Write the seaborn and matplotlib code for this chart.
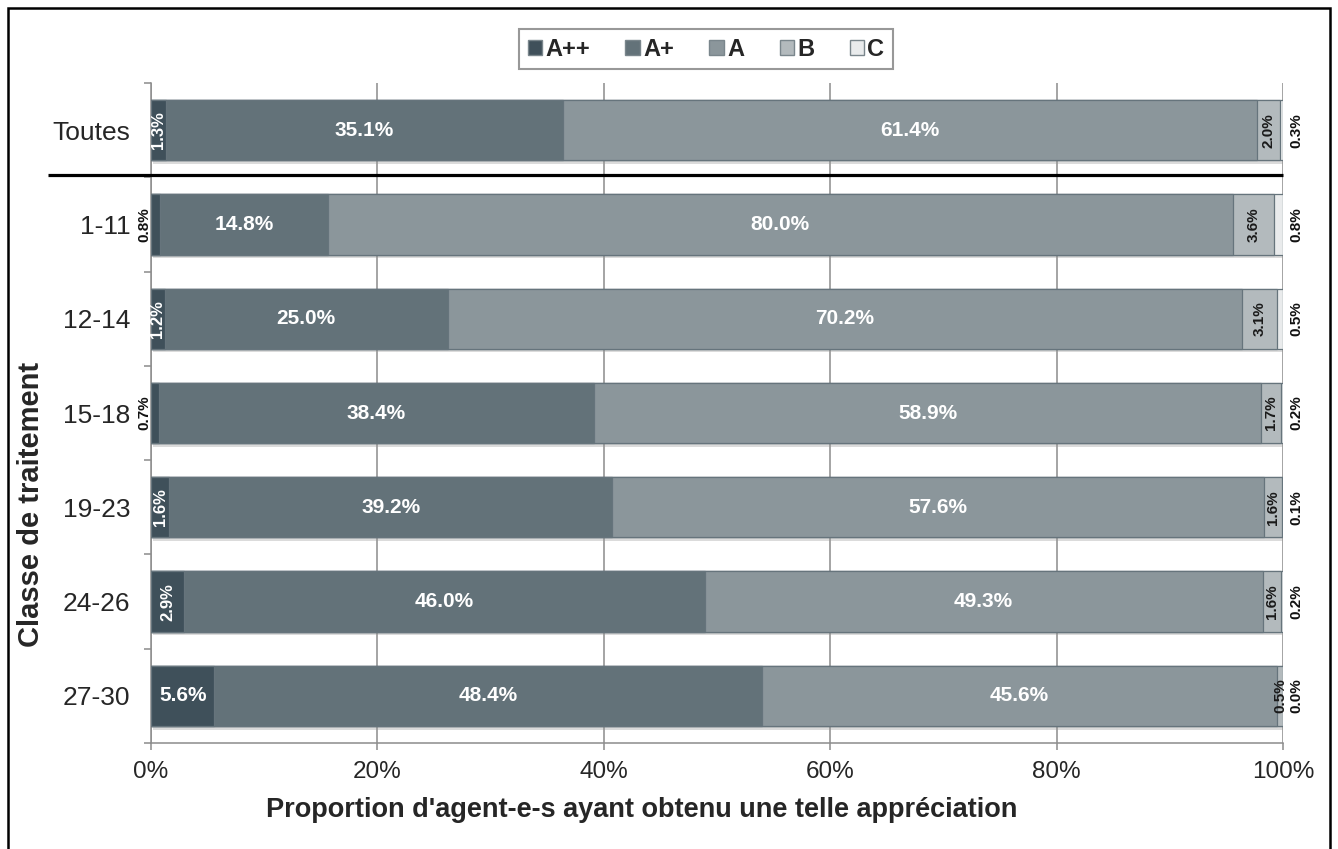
import matplotlib
matplotlib.use("Agg")
import matplotlib.pyplot as plt
import matplotlib.transforms as mtransforms
from matplotlib import patheffects as pe
from matplotlib.patches import Rectangle
import numpy as np
import pandas as pd
import seaborn as sns

# Share of agents per grade, by treatment class (percent)
classes = ["Toutes", "1-11", "12-14", "15-18", "19-23", "24-26", "27-30"]
grades = ["A++", "A+", "A", "B", "C"]
share_app = [1.3, 0.8, 1.2, 0.7, 1.6, 2.9, 5.6]
share_ap = [35.1, 14.8, 25.0, 38.4, 39.2, 46.0, 48.4]
share_a = [61.4, 80.0, 70.2, 58.9, 57.6, 49.3, 45.6]
share_b = [2.0, 3.6, 3.1, 1.7, 1.6, 1.6, 0.5]
share_c = [0.3, 0.8, 0.5, 0.2, 0.1, 0.2, 0.0]

colors = ["#3f505a", "#637279", "#8b969b", "#b3babd", "#e9ebec"]
edge = "#66747c"
grid_gray = "#8c8c8c"

sns.set_style("white")
plt.rcParams["font.family"] = ["Liberation Sans", "DejaVu Sans"]

values = np.array([share_app, share_ap, share_a, share_b, share_c])  # grades x classes
totals = values.sum(axis=0)
pct = values / totals * 100.0          # 100 % stacked
cum = np.cumsum(pct, axis=0)

df = pd.DataFrame({"classe": classes})
for g, row in zip(grades, cum):
    df[g] = row

fig = plt.figure(figsize=(13.38, 8.49), dpi=100)
ax = fig.add_axes([151 / 1338, 1 - 743 / 849, (1283 - 151) / 1338, (743 - 83) / 849])

# Stacked bars: draw cumulative totals from the last grade to the first
for i in range(len(grades) - 1, -1, -1):
    n_before = len(ax.patches)
    sns.barplot(data=df, x=grades[i], y="classe", order=classes, orient="h",
                color=colors[i], saturation=1, width=0.64,
                edgecolor=edge, linewidth=0.9, ax=ax, zorder=3)
    if i == len(grades) - 1:
        for p in ax.patches[n_before:]:
            p.set_path_effects([pe.SimplePatchShadow(offset=(1.5, -2.5),
                                                     shadow_rgbFace="#9a9a9a",
                                                     alpha=0.35),
                                pe.Normal()])

ax.set_xlim(0, 100)
ax.set_ylim(6.5, -0.5)

# Value labels
for j, cl in enumerate(classes):
    for i, g in enumerate(grades):
        w = pct[i, j]
        left = cum[i, j] - w
        mid = left + w / 2
        txt = f"{values[i, j]:.1f}%"
        if g in ("A+", "A") or (g == "A++" and w >= 5):
            ax.text(mid, j, txt, ha="center", va="center", color="white",
                    fontsize=15, fontweight="bold", zorder=5)
        elif g == "A++":
            if w >= 1:
                ax.text(mid, j, txt, ha="center", va="center", color="white",
                        fontsize=12, fontweight="bold", rotation=90, zorder=5)
            else:
                ax.text(-0.55, j, txt, ha="center", va="center", color="#111111",
                        fontsize=11, fontweight="bold", rotation=90, zorder=5,
                        clip_on=False)
        elif g == "B":
            ax.text(mid, j, txt, ha="center", va="center", color="#1a1a1a",
                    fontsize=11, fontweight="bold", rotation=90, zorder=5)
        else:
            ax.text(101.15, j, txt, ha="center", va="center", color="#111111",
                    fontsize=11, fontweight="bold", rotation=90, zorder=5,
                    clip_on=False)

# Axes styling
ax.set_xticks(np.arange(0, 101, 20))
ax.set_xticklabels([f"{v}%" for v in range(0, 101, 20)])
ax.tick_params(axis="x", length=5, width=1.1, color=grid_gray, pad=8,
               labelsize=17.5, direction="out", bottom=True)
ax.set_yticks(range(len(classes)))
ax.set_yticklabels(classes)
ax.tick_params(axis="y", which="major", length=0, pad=15, labelsize=19)
ax.set_yticks(np.arange(-0.5, len(classes), 1.0), minor=True)
ax.tick_params(axis="y", which="minor", length=5, width=1.1, color=grid_gray,
               direction="out", left=True)

ax.xaxis.grid(True, color=grid_gray, linewidth=1.1, zorder=0)
ax.yaxis.grid(False)
ax.set_axisbelow(True)
for s in ("top", "right"):
    ax.spines[s].set_visible(False)
for s in ("left", "bottom"):
    ax.spines[s].set_color(grid_gray)
    ax.spines[s].set_linewidth(1.1)

ax.set_xlabel("Proportion d'agent-e-s ayant obtenu une telle appréciation",
              fontsize=19.5, fontweight="bold", labelpad=10)
ax.xaxis.set_label_coords(0.4333, -0.082)
ax.set_ylabel("Classe de traitement", fontsize=21, fontweight="bold")
ax.yaxis.set_label_coords(-0.094, 0.362)

# Separator between the overall row and the per-class rows
trans = mtransforms.blended_transform_factory(ax.transAxes, ax.transData)
ax.plot([-0.091, 1.0], [0.48, 0.48], color="black", linewidth=2.3,
        transform=trans, clip_on=False, zorder=6, solid_capstyle="butt")

# Legend
handles = [Rectangle((0, 0), 1, 1, facecolor=c, edgecolor="#7a868c", linewidth=1.0)
           for c in colors]
leg = fig.legend(handles, grades, loc="center", bbox_to_anchor=(706 / 1338, 1 - 49 / 849),
                 ncol=5, frameon=True, fancybox=False, handlelength=0.6,
                 handleheight=0.6, handletextpad=0.15, columnspacing=1.5,
                 borderpad=0.35, prop={"weight": "bold", "size": 17})
leg.get_frame().set_edgecolor("#7f7f7f")
leg.get_frame().set_linewidth(1.5)

# Outer frame
fig.patches.append(Rectangle((8 / 1338, -0.02), (1330 - 8) / 1338, 1 - 8 / 849 + 0.02,
                             transform=fig.transFigure, fill=False,
                             edgecolor="black", linewidth=1.8, zorder=10))

fig.savefig("out.png", dpi=100)
